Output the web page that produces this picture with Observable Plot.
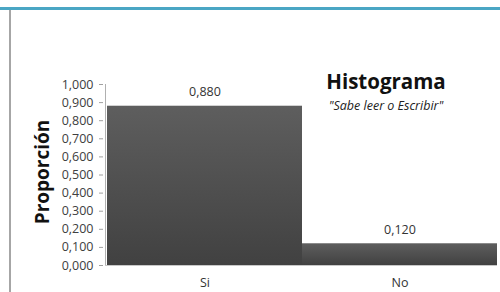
<!DOCTYPE html>
<html>
<head>
<meta charset="utf-8">
<script src="https://cdn.jsdelivr.net/npm/d3@7"></script>
<script src="https://cdn.jsdelivr.net/npm/@observablehq/plot@0.6"></script>
<style>
  html, body { margin: 0; padding: 0; background: #fff; }
  #wrap { position: relative; width: 500px; height: 292px; overflow: hidden; font-family: "Open Sans", sans-serif; }
  #topline { position: absolute; left: 0; top: 7px; width: 500px; height: 3px; background: #4aa6c4; }
  #leftline { position: absolute; left: 9px; top: 10px; width: 2px; height: 282px; background: #a6a6a6; }
  #chart { position: absolute; left: 0; top: 0; }
  #title { position: absolute; left: 386px; top: 67px; transform: translateX(-50%); font-weight: 700; font-size: 20.5px; color: #111; white-space: nowrap; }
  #subtitle { position: absolute; left: 386px; top: 97px; transform: translateX(-50%); font-style: italic; font-size: 12.5px; color: #222; white-space: nowrap; }
  #ytitle { position: absolute; left: 42px; top: 172px; transform: translate(-50%, -50%) rotate(-90deg); font-weight: 700; font-size: 19px; color: #111; white-space: nowrap; }
</style>
</head>
<body>
<div id="wrap">
  <div id="chart"></div>
  <div id="topline"></div>
  <div id="leftline"></div>
  <div id="title">Histograma</div>
  <div id="subtitle">"Sabe leer o Escribir"</div>
  <div id="ytitle">Proporción</div>
</div>
<script>
const categories = ["Si", "No"];
const proportions = [0.880, 0.120];
const yTicks = [0, 0.1, 0.2, 0.3, 0.4, 0.5, 0.6, 0.7, 0.8, 0.9, 1.0];

const fmt = v => d3.format(".3f")(v).replace(".", ",");
const data = categories.map((c, i) => ({cat: c, value: proportions[i], x1: i, x2: i + 1}));

const chart = Plot.plot({
  width: 500,
  height: 292,
  marginTop: 84,
  marginBottom: 27,
  marginLeft: 105,
  marginRight: 3,
  style: {fontFamily: "'Open Sans', sans-serif", fontSize: "12.5px", color: "#404040", background: "transparent"},
  x: {domain: [0, categories.length], insetLeft: 2},
  y: {domain: [0, 1]},
  marks: [
    Plot.rectY(data, {x1: "x1", x2: "x2", y: "value", fill: "url(#barGrad)"}),
    Plot.ruleY([0], {stroke: "#c8c8c8"}),
    Plot.ruleX([0], {y1: 0, y2: 1, dx: -2, stroke: "#b0b0b0"}),
    Plot.text(data, {x: d => (d.x1 + d.x2) / 2, y: "value", text: d => fmt(d.value), dy: -14, fill: "#333", fontSize: 12.5}),
    Plot.axisY({ticks: yTicks, tickFormat: fmt, tickSize: 4, tickPadding: 6, label: null, stroke: "#a0a0a0", fill: "#404040", dx: -2, fontSize: 12.5}),
    Plot.axisX({ticks: categories.map((c, i) => i + 0.5), tickFormat: d => categories[Math.floor(d)], tickSize: 0, tickPadding: 13, label: null, fill: "#333", fontSize: 12.5})
  ]
});

const svg = d3.select(chart);
const defs = svg.insert("defs", ":first-child");
const g = defs.append("linearGradient").attr("id", "barGrad").attr("x1", 0).attr("y1", 0).attr("x2", 0).attr("y2", 1);
g.append("stop").attr("offset", "0%").attr("stop-color", "#5e5e5e");
g.append("stop").attr("offset", "100%").attr("stop-color", "#414141");

document.getElementById("chart").appendChild(chart);
</script>
</body>
</html>
